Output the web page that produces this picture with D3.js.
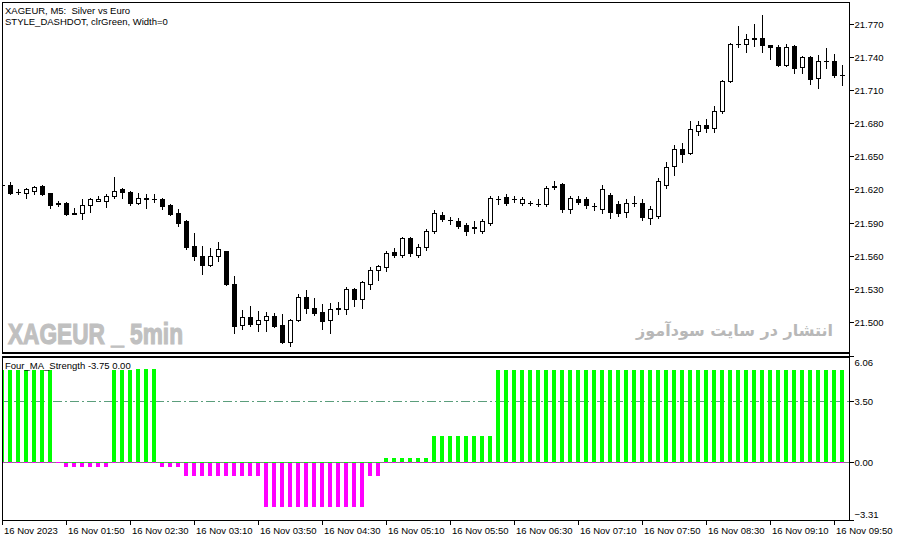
<!DOCTYPE html>
<html>
<head>
<meta charset="utf-8">
<script src="https://cdn.jsdelivr.net/npm/d3@7"></script>
<style>
  body { margin: 0; background: #fff; }
  svg { display: block; }
  text { font-family: "Liberation Sans", Arial, sans-serif; font-size: 9.5px; fill: #000; white-space: pre; }
</style>
</head>
<body>
<svg id="chart" width="897" height="541"></svg>
<script>
// XAGEUR M5 candles, 16 Nov 2023 01:10 .. 09:55
const open  = [21.624,21.624,21.618,21.617,21.619,21.623,21.617,21.608,21.608,21.599,21.599,21.606,21.610,21.610,21.614,21.620,21.618,21.608,21.611,21.611,
               21.611,21.606,21.599,21.591,21.569,21.560,21.552,21.560,21.564,21.534,21.497,21.504,21.498,21.502,21.505,21.497,21.482,21.502,21.523,21.513,
               21.509,21.502,21.512,21.512,21.530,21.521,21.534,21.547,21.550,21.563,21.561,21.576,21.561,21.568,21.582,21.597,21.592,21.591,21.588,21.585,
               21.582,21.590,21.611,21.613,21.611,21.608,21.608,21.607,21.607,21.622,21.625,21.602,21.611,21.611,21.605,21.602,21.615,21.607,21.600,21.608,
               21.608,21.594,21.596,21.624,21.641,21.657,21.653,21.673,21.678,21.676,21.691,21.718,21.752,21.752,21.756,21.757,21.751,21.749,21.733,21.750,
               21.731,21.740,21.721,21.736,21.736,21.724];
const high  = [21.625,21.627,21.620,21.621,21.623,21.624,21.617,21.610,21.609,21.603,21.611,21.612,21.614,21.616,21.631,21.621,21.619,21.617,21.616,21.616,
               21.612,21.607,21.602,21.592,21.581,21.569,21.567,21.572,21.564,21.542,21.511,21.514,21.510,21.509,21.508,21.507,21.503,21.525,21.529,21.522,
               21.516,21.517,21.518,21.532,21.531,21.537,21.550,21.552,21.564,21.567,21.577,21.577,21.571,21.584,21.601,21.600,21.595,21.594,21.590,21.591,
               21.593,21.614,21.614,21.616,21.614,21.613,21.610,21.611,21.623,21.628,21.626,21.614,21.614,21.613,21.608,21.624,21.617,21.610,21.611,21.614,
               21.611,21.605,21.630,21.645,21.660,21.662,21.682,21.682,21.684,21.696,21.719,21.753,21.768,21.761,21.770,21.778,21.751,21.751,21.752,21.751,
               21.741,21.741,21.742,21.748,21.743,21.733];
const low   = [21.623,21.616,21.616,21.612,21.616,21.615,21.603,21.605,21.597,21.598,21.593,21.600,21.610,21.604,21.612,21.612,21.606,21.607,21.603,21.609,
               21.602,21.597,21.587,21.566,21.556,21.543,21.551,21.555,21.533,21.490,21.494,21.496,21.492,21.492,21.495,21.481,21.478,21.501,21.508,21.506,
               21.494,21.490,21.507,21.507,21.514,21.513,21.530,21.538,21.546,21.559,21.559,21.560,21.559,21.565,21.581,21.591,21.589,21.585,21.579,21.581,
               21.581,21.588,21.607,21.606,21.609,21.606,21.606,21.605,21.605,21.620,21.600,21.599,21.607,21.603,21.601,21.599,21.594,21.596,21.595,21.605,
               21.592,21.589,21.594,21.621,21.633,21.645,21.652,21.669,21.672,21.672,21.689,21.717,21.749,21.745,21.750,21.745,21.738,21.732,21.732,21.726,
               21.726,21.716,21.712,21.730,21.722,21.715];
const close = [21.624,21.617,21.618,21.620,21.622,21.616,21.606,21.607,21.598,21.598,21.606,21.611,21.611,21.614,21.619,21.618,21.608,21.612,21.612,21.611,
               21.605,21.598,21.590,21.568,21.560,21.552,21.560,21.566,21.534,21.496,21.504,21.498,21.502,21.505,21.496,21.482,21.502,21.523,21.513,21.508,
               21.501,21.512,21.513,21.530,21.521,21.536,21.547,21.551,21.562,21.561,21.576,21.562,21.568,21.582,21.599,21.593,21.592,21.587,21.582,21.586,
               21.591,21.612,21.611,21.608,21.611,21.611,21.608,21.607,21.621,21.623,21.602,21.612,21.609,21.606,21.605,21.620,21.600,21.599,21.608,21.608,
               21.595,21.602,21.628,21.640,21.657,21.652,21.675,21.678,21.676,21.691,21.718,21.752,21.752,21.756,21.757,21.751,21.749,21.733,21.749,21.730,
               21.740,21.720,21.736,21.736,21.724,21.724];

// Four_MA_Strength histogram buffers
const upVals   = [5.25,5.25,5.25,5.25,5.25,5.25,5.25,0,0,0,0,0,0,0,5.25,5.25,5.25,5.3,5.3,5.3,
                  0,0,0,0,0,0,0,0,0,0,0,0,0,0,0,0,0,0,0,0,
                  0,0,0,0,0,0,0,0,0.25,0.25,0.25,0.25,0.25,0.25,1.5,1.5,1.5,1.5,1.5,1.5,
                  1.5,1.5,5.25,5.25,5.25,5.25,5.25,5.25,5.25,5.25,5.25,5.25,5.25,5.25,5.25,5.25,5.25,5.25,5.25,5.25,
                  5.25,5.25,5.25,5.25,5.25,5.25,5.25,5.25,5.25,5.25,5.25,5.25,5.25,5.25,5.25,5.25,5.25,5.25,5.25,5.25,
                  5.25,5.25,5.25,5.25,5.25,5.25];
const downVals = [0,0,0,0,0,0,0,0,-0.25,-0.25,-0.25,-0.25,-0.25,-0.25,0,0,0,0,0,0,
                  -0.25,-0.25,-0.25,-0.75,-0.75,-0.75,-0.75,-0.75,-0.75,-0.75,-0.75,-0.75,-0.75,-2.5,-2.5,-2.5,-2.5,-2.5,-2.5,-2.5,
                  -2.5,-2.5,-2.5,-2.5,-2.5,-2.5,-0.75,-0.75,0,0,0,0,0,0,0,0,0,0,0,0,
                  0,0,0,0,0,0,0,0,0,0,0,0,0,0,0,0,0,0,0,0,
                  0,0,0,0,0,0,0,0,0,0,0,0,0,0,0,0,0,0,0,0,
                  0,0,0,0,0,0];

const priceTicks = [21.770, 21.740, 21.710, 21.680, 21.650, 21.620, 21.590, 21.560, 21.530, 21.500];
const indTicks = [6.06, 3.50, 0.00, -3.31];
const indLevel = 3.50;
const timeTickIdx = [0, 8, 16, 24, 32, 40, 48, 56, 64, 72, 80, 88, 96, 104];
const timeLabels = ["16 Nov 2023", "16 Nov 01:50", "16 Nov 02:30", "16 Nov 03:10", "16 Nov 03:50", "16 Nov 04:30",
                    "16 Nov 05:10", "16 Nov 05:50", "16 Nov 06:30", "16 Nov 07:10", "16 Nov 07:50", "16 Nov 08:30",
                    "16 Nov 09:10", "16 Nov 09:50"];

const svg = d3.select("#chart");
const left = 2, right = 849, mainTop = 2, mainBottom = 354, indTop = 356, indBottom = 520;

const x = d3.scaleBand().domain(d3.range(open.length)).range([-1.5, 846.5]);
const cx = i => x(i) + x.bandwidth() / 2;
const y = d3.scaleLinear().domain([21.4709, 21.7899]).range([mainBottom, mainTop]);
const yi = d3.scaleLinear().domain([-3.31, 6.06]).range([indBottom, indTop]);
const xt = d3.scaleLinear().domain([0, open.length - 1]).range([cx(0), cx(open.length - 1)]);

svg.append("rect").attr("width", 897).attr("height", 541).attr("fill", "#fff");

const defs = svg.append("defs");
defs.append("clipPath").attr("id", "clipMain")
  .append("rect").attr("x", left + 1).attr("y", mainTop + 1).attr("width", right - left - 1).attr("height", mainBottom - mainTop - 3);
defs.append("clipPath").attr("id", "clipInd")
  .append("rect").attr("x", left + 1).attr("y", indTop + 2).attr("width", right - left - 1).attr("height", indBottom - indTop - 2);

// watermarks
svg.append("text")
  .attr("x", 8).attr("y", 344)
  .attr("textLength", 175).attr("lengthAdjust", "spacingAndGlyphs")
  .style("font-size", "30px").style("font-weight", "bold").style("fill", "#c0c0c0")
  .style("stroke", "#c0c0c0").style("stroke-width", "1.2px")
  .text("XAGEUR _ 5min");
svg.append("text")
  .attr("x", 833).attr("y", 336)
  .attr("text-anchor", "end")
  .style("font-family", "'DejaVu Sans', sans-serif")
  .style("font-size", "16px").style("font-weight", "bold").style("fill", "#b8b8b8")
  .text("انتشار در سایت سودآموز");

// candles
const candles = svg.append("g").attr("clip-path", "url(#clipMain)").attr("shape-rendering", "crispEdges");
d3.range(open.length).forEach(i => {
  const px = Math.floor(cx(i));
  const o = open[i], c = close[i];
  candles.append("line")
    .attr("x1", px + 0.5).attr("x2", px + 0.5)
    .attr("y1", Math.round(y(high[i]))).attr("y2", Math.round(y(low[i])) + 1)
    .attr("stroke", "#000");
  const top = Math.round(y(Math.max(o, c)));
  const bot = Math.round(y(Math.min(o, c)));
  if (bot - top < 1) {
    candles.append("rect").attr("x", px - 2).attr("y", top).attr("width", 5).attr("height", 1).attr("fill", "#000");
  } else if (c > o) {
    candles.append("rect").attr("x", px - 1.5).attr("y", top + 0.5).attr("width", 4).attr("height", bot - top)
      .attr("fill", "#fff").attr("stroke", "#000");
  } else {
    candles.append("rect").attr("x", px - 2).attr("y", top).attr("width", 5).attr("height", bot - top + 1).attr("fill", "#000");
  }
});

// indicator
const ind = svg.append("g").attr("clip-path", "url(#clipInd)").attr("shape-rendering", "crispEdges");
const y0 = Math.round(yi(0));
ind.append("line")
  .attr("x1", left).attr("x2", right).attr("y1", Math.round(yi(indLevel)) + 0.5).attr("y2", Math.round(yi(indLevel)) + 0.5)
  .attr("stroke", "#5b9e7c").attr("stroke-dasharray", "9,3,2,3");
ind.append("line")
  .attr("x1", left).attr("x2", right).attr("y1", y0 + 0.5).attr("y2", y0 + 0.5)
  .attr("stroke", "#808080");

ind.selectAll(".up").data(upVals).join("rect")
  .attr("class", "up")
  .attr("x", (d, i) => Math.floor(cx(i)) - 2)
  .attr("width", 4)
  .attr("y", d => d > 0 ? Math.round(yi(d)) : y0)
  .attr("height", d => d > 0 ? y0 - Math.round(yi(d)) : 1)
  .attr("fill", "#00ff00");
ind.selectAll(".down").data(downVals).join("rect")
  .attr("class", "down")
  .attr("x", (d, i) => Math.floor(cx(i)) - 2)
  .attr("width", 4)
  .attr("y", d => d < 0 ? y0 + 1 : y0)
  .attr("height", d => d < 0 ? Math.round(yi(d)) - y0 : 1)
  .attr("fill", "#ff00ff");

// frames
const frame = svg.append("g").attr("shape-rendering", "crispEdges").attr("fill", "#000");
frame.append("rect").attr("x", left).attr("y", mainTop).attr("width", right - left + 1).attr("height", 1);
frame.append("rect").attr("x", left).attr("y", mainTop).attr("width", 1).attr("height", mainBottom - mainTop);
frame.append("rect").attr("x", left).attr("y", mainBottom - 2).attr("width", right - left + 1).attr("height", 2);
frame.append("rect").attr("x", left).attr("y", indTop).attr("width", right - left + 1).attr("height", 2);
frame.append("rect").attr("x", left).attr("y", indTop).attr("width", 1).attr("height", indBottom - indTop);
frame.append("rect").attr("x", left).attr("y", indBottom).attr("width", right - left + 1).attr("height", 1);
frame.append("rect").attr("x", right).attr("y", mainTop).attr("width", 1).attr("height", indBottom - mainTop + 1);

// axes
const styleAxis = g => {
  g.select(".domain").remove();
  g.attr("font-family", null).attr("font-size", null);
  g.selectAll(".tick line").attr("stroke", "#000").attr("shape-rendering", "crispEdges");
  g.selectAll(".tick text").attr("fill", "#000");
};

svg.append("g")
  .attr("transform", `translate(${right + 0.5},0)`)
  .call(d3.axisRight(y).tickValues(priceTicks).tickFormat(d3.format(".3f")).tickSize(4).tickPadding(1))
  .call(styleAxis)
  .call(g => g.selectAll(".tick").attr("transform", d => `translate(0,${Math.round(y(d)) + 0.5})`));

svg.append("g")
  .attr("transform", `translate(${right + 0.5},0)`)
  .call(d3.axisRight(yi).tickValues(indTicks).tickFormat(d3.format(".2f")).tickSize(4).tickPadding(1))
  .call(styleAxis)
  .call(g => g.selectAll(".tick").attr("transform", d => `translate(0,${Math.round(yi(d)) + 0.5})`))
  .call(g => g.selectAll(".tick text").attr("dy", d => d === 6.06 ? "0.95em" : d === -3.31 ? "-0.3em" : "0.32em"));

svg.append("g")
  .attr("transform", `translate(0,${indBottom + 0.5})`)
  .call(d3.axisBottom(xt).tickValues(timeTickIdx).tickFormat((d, i) => timeLabels[i]).tickSize(4))
  .call(styleAxis)
  .call(g => g.selectAll(".tick").attr("transform", d => `translate(${Math.floor(xt(d)) + 0.5},0)`))
  .call(g => g.selectAll(".tick text").attr("text-anchor", "start").attr("x", 1.5).attr("y", 13.5).attr("dy", null));

// labels
svg.append("text").attr("x", 5).attr("y", 13.5).text("XAGEUR, M5:  Silver vs Euro");
svg.append("text").attr("x", 5).attr("y", 24.5).text("STYLE_DASHDOT, clrGreen, Width=0");
svg.append("text").attr("x", 5).attr("y", 368.5).text("Four_MA_Strength -3.75 0.00");
</script>
</body>
</html>
